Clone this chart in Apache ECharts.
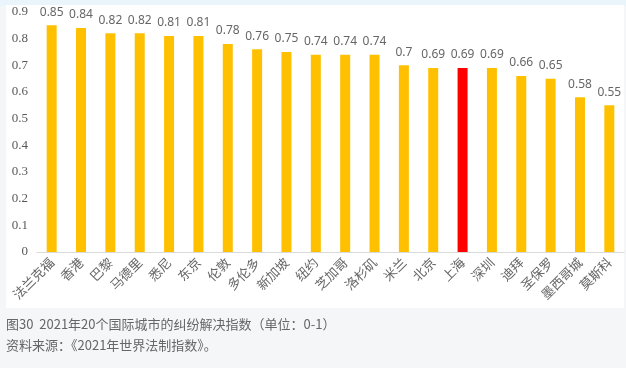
<!DOCTYPE html>
<html><head><meta charset="utf-8">
<script src="https://cdn.jsdelivr.net/npm/echarts@6/dist/echarts.min.js"></script>
<style>html,body{margin:0;padding:0;background:#f4f6f7;}#c{width:626px;height:368px;}</style>
</head><body><div id="c"></div>
<script>
const cities = ['法兰克福','香港','巴黎','马德里','悉尼','东京','伦敦','多伦多','新加坡','纽约','芝加哥','洛杉矶','米兰','北京','上海','深圳','迪拜','圣保罗','墨西哥城','莫斯科'];
const values = [0.85,0.84,0.82,0.82,0.81,0.81,0.78,0.76,0.75,0.74,0.74,0.74,0.7,0.69,0.69,0.69,0.66,0.65,0.58,0.55];
const highlight = '上海';
const captionLine1 = '图30  2021年20个国际城市的纠纷解决指数（单位：0-1）';
const captionLine2 = '资料来源：《2021年世界法制指数》。';

const chart = echarts.init(document.getElementById('c'));
chart.setOption({
  animation: false,
  backgroundColor: '#f4f6f7',
  graphic: [
    {type:'rect', left:0, top:0, shape:{width:626, height:6}, style:{fill:'#eaf4fb'}, z:-10},
    {type:'rect', left:6, top:5, shape:{width:618, height:303}, style:{fill:'#ffffff'}, z:-5},
    {type:'text', left:6, top:318, style:{text:captionLine1, fill:'#666666', font:'13px "Noto Sans CJK SC"'}},
    {type:'text', left:6, top:339, style:{text:captionLine2, fill:'#666666', font:'13px "Noto Sans CJK SC"'}}
  ],
  grid: {left:37, top:12, width:587, height:240, containLabel:false},
  xAxis: {
    type:'category', data: cities,
    axisLine:{lineStyle:{color:'#d9d9d9'}},
    axisTick:{show:false},
    axisLabel:{rotate:45, interval:0, color:'#666666', fontSize:13, fontFamily:'Noto Sans CJK SC', margin:8}
  },
  yAxis: {
    type:'value', min:0, max:0.9, interval:0.1,
    splitLine:{show:false}, axisLine:{show:false}, axisTick:{show:false},
    axisLabel:{color:'#595959', fontSize:13, fontFamily:'Liberation Serif, serif', margin:9,
      formatter: v => String(Math.round(v*10)/10)}
  },
  series: [{
    type:'bar', barWidth:10,
    data: values.map((v,i)=>({value:v, itemStyle:{color: cities[i]===highlight ? '#ff0000' : '#ffc000'}})),
    label:{show:true, position:'top', distance:7, color:'#666666', fontSize:12, fontFamily:'Noto Sans'}
  }]
});
</script></body></html>
